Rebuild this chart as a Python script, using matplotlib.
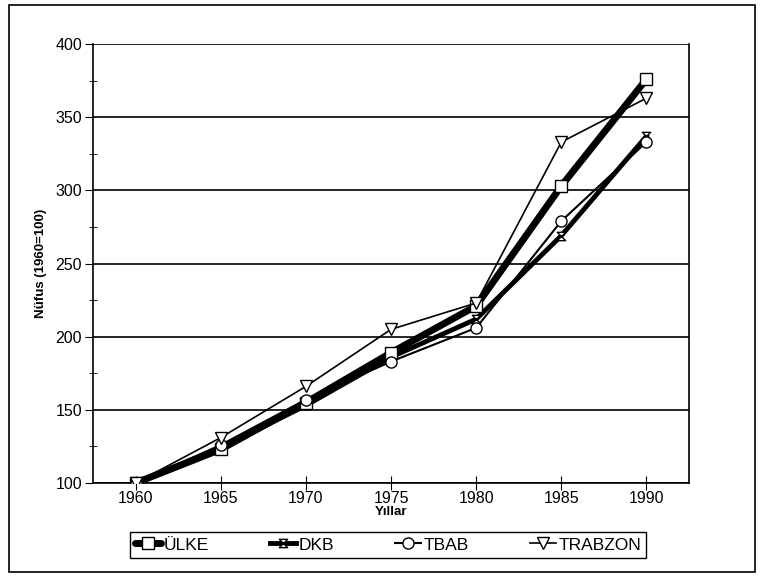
import matplotlib
matplotlib.use("Agg")
import matplotlib.pyplot as plt
from matplotlib.patches import Rectangle
from matplotlib.path import Path

plt.rcParams['font.family'] = ['Liberation Sans', 'DejaVu Sans']

years = ['1960', '1965', '1970', '1975', '1980', '1985', '1990']
ulke = [100, 123, 155, 189, 221, 303, 376]
dkb = [100, 124, 153, 186, 212, 269, 337]
tbab = [100, 126, 157, 183, 206, 279, 333]
trabzon = [100, 131, 166, 205, 223, 333, 363]

# hourglass marker for DKB
hourglass = Path([(-1, 1), (1, 1), (-1, -1), (1, -1), (-1, 1)],
                 [Path.MOVETO, Path.LINETO, Path.LINETO, Path.LINETO, Path.CLOSEPOLY])


def main():
    fig = plt.figure(figsize=(7.61, 5.77), dpi=100)
    ax = fig.add_axes([0.1222, 0.1629, 0.7832, 0.7608])

    x = range(len(years))
    ax.plot(x, ulke, color='black', lw=5, marker='s', ms=8, mfc='white',
            mec='black', mew=1, label='ÜLKE', zorder=4, solid_capstyle='round')
    ax.plot(x, dkb, color='black', lw=3.5, marker=hourglass, ms=6, mfc='white',
            mec='black', mew=1, label='DKB', zorder=3)
    ax.plot(x, tbab, color='black', lw=1.5, marker='o', ms=8, mfc='white',
            mec='black', mew=1, label='TBAB', zorder=5)
    ax.plot(x, trabzon, color='black', lw=1.2, marker='v', ms=9, mfc='white',
            mec='black', mew=1, label='TRABZON', zorder=6)

    ax.set_xlim(-0.5, len(years) - 0.5)
    ax.set_ylim(100, 400)
    ax.set_xticks(list(x))
    ax.set_xticklabels(years)
    ax.set_yticks(range(100, 401, 50))
    ax.set_yticks(range(125, 400, 50), minor=True)
    ax.yaxis.grid(True, color='black', lw=1.2)
    ax.set_axisbelow(True)
    for s in ['left', 'right', 'bottom']:
        ax.spines[s].set_linewidth(1.2)
    ax.spines['top'].set_visible(False)

    ax.tick_params(axis='both', labelsize=11.5, colors='black')
    ax.tick_params(axis='x', direction='inout', length=10, pad=1)
    ax.tick_params(axis='y', which='major', direction='out', length=6, pad=2)
    ax.tick_params(axis='y', which='minor', direction='inout', length=6)

    ax.set_ylabel('Nüfus (1960=100)', fontsize=9.5, fontweight='bold', labelpad=6)
    ax.set_xlabel('Yıllar', fontsize=9.5, fontweight='bold', labelpad=0)

    fig.legend(loc='center', bbox_to_anchor=(0.51, 0.0555), ncol=4,
               fontsize=12.5, frameon=True, fancybox=False, edgecolor='black',
               framealpha=1, handlelength=1.5, handletextpad=0.15,
               columnspacing=3.5, borderpad=0.3)

    fig.patches.append(Rectangle((9 / 761, 5 / 577), 746 / 761, 567 / 577,
                                 transform=fig.transFigure, fill=False,
                                 edgecolor='black', lw=1.2))

    fig.savefig('out.png', dpi=100)


if __name__ == '__main__':
    main()
